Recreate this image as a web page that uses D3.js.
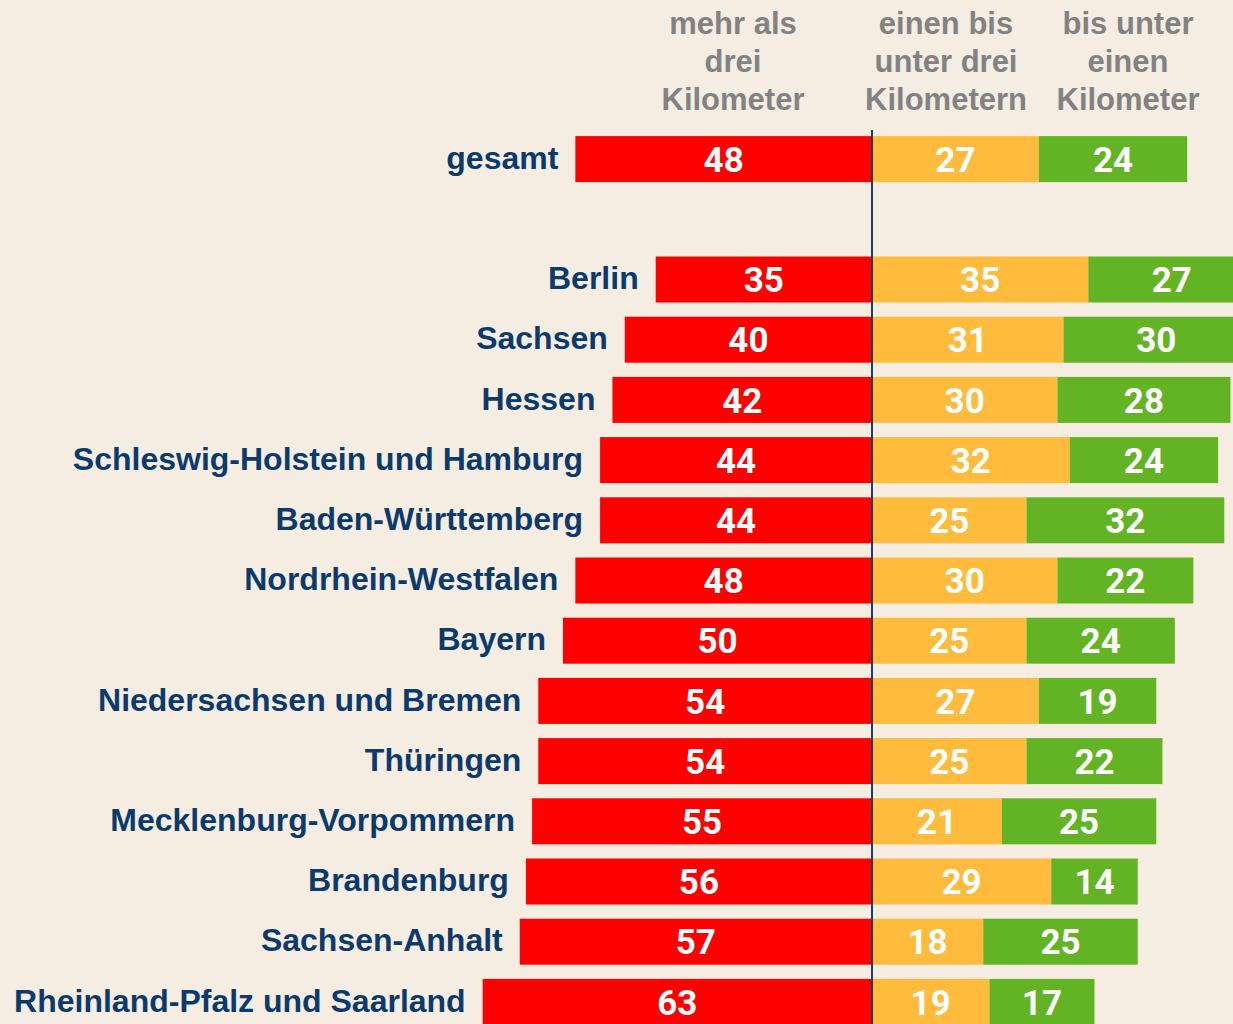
<!DOCTYPE html>
<html>
<head>
<meta charset="utf-8">
<script src="https://cdn.jsdelivr.net/npm/d3@7"></script>
<style>
  body { margin: 0; background: #f5ede2; }
  svg { display: block; }
</style>
</head>
<body>
<div id="chart"></div>
<script>
// data
var regions = ['gesamt', '', 'Berlin', 'Sachsen', 'Hessen', 'Schleswig-Holstein und Hamburg',
  'Baden-Württemberg', 'Nordrhein-Westfalen', 'Bayern', 'Niedersachsen und Bremen',
  'Thüringen', 'Mecklenburg-Vorpommern', 'Brandenburg', 'Sachsen-Anhalt',
  'Rheinland-Pfalz und Saarland']
var moreThan3 = [48, null, 35, 40, 42, 44, 44, 48, 50, 54, 54, 55, 56, 57, 63]
var oneTo3 = [27, null, 35, 31, 30, 32, 25, 30, 25, 27, 25, 21, 29, 18, 19]
var under1 = [24, null, 27, 30, 28, 24, 32, 22, 24, 19, 22, 25, 14, 25, 17]
var headers = [
  ['mehr als', 'drei', 'Kilometer'],
  ['einen bis', 'unter drei', 'Kilometern'],
  ['bis unter', 'einen', 'Kilometer']
]

var COLOR = { RED: '#ff0000', YELLOW: '#ffbb3b', GREEN: '#62b424', NAVY: '#0b3a6d', GREY: '#828282' }

var width = 1233
var height = 1024

var svg = d3.select('#chart')
  .append('svg')
  .attr('width', width)
  .attr('height', height)

svg.append('rect').attr('width', width).attr('height', height).attr('fill', '#f5ede2')

// scales
var x = d3.scaleLinear().domain([-100, 100]).range([872 - 618, 872 + 618])
var y = d3.scaleBand()
  .domain(d3.range(regions.length))
  .range([129, 1032])
  .paddingInner(0.236)
  .paddingOuter(0.118)

var rows = regions.map(function (r, i) {
  return { name: r, a: moreThan3[i], b: oneTo3[i], c: under1[i], i: i }
}).filter(function (d) { return d.a !== null })

var g = svg.append('g')

// bars
var segs = []
rows.forEach(function (d) {
  segs.push({ i: d.i, x0: -d.a, x1: 0, v: d.a, color: COLOR.RED })
  segs.push({ i: d.i, x0: 0, x1: d.b, v: d.b, color: COLOR.YELLOW })
  segs.push({ i: d.i, x0: d.b, x1: d.b + d.c, v: d.c, color: COLOR.GREEN })
})

g.selectAll('rect.bar')
  .data(segs)
  .enter()
  .append('rect')
  .attr('class', 'bar')
  .attr('x', d => x(d.x0))
  .attr('y', d => y(d.i))
  .attr('width', d => x(d.x1) - x(d.x0))
  .attr('height', y.bandwidth())
  .attr('fill', d => d.color)

g.selectAll('text.val')
  .data(segs)
  .enter()
  .append('text')
  .attr('class', 'val')
  .attr('x', d => (x(d.x0) + x(d.x1)) / 2)
  .attr('y', d => y(d.i) + y.bandwidth() / 2)
  .attr('dy', '0.36em')
  .attr('text-anchor', 'middle')
  .style('font-family', 'Roboto, sans-serif')
  .style('font-weight', 700)
  .style('font-size', '35px')
  .style('fill', '#fff')
  .text(d => d.v)

// region labels
g.selectAll('text.lab')
  .data(rows)
  .enter()
  .append('text')
  .attr('class', 'lab')
  .attr('x', d => x(-d.a) - 17)
  .attr('y', d => y(d.i) + y.bandwidth() / 2 - 1.5)
  .attr('dy', '0.35em')
  .attr('text-anchor', 'end')
  .style('font-family', '"Liberation Sans", Arial, sans-serif')
  .style('font-weight', 700)
  .style('font-size', '32px')
  .style('fill', COLOR.NAVY)
  .text(d => d.name)

// center line
svg.append('line')
  .attr('x1', x(0)).attr('x2', x(0))
  .attr('y1', 130).attr('y2', height)
  .attr('stroke', '#1e3d6b')
  .attr('stroke-width', 2)

// column headers
var headX = [733, 946, 1128]
headers.forEach(function (lines, k) {
  var t = svg.append('text')
    .attr('text-anchor', 'middle')
    .style('font-family', '"Liberation Sans", Arial, sans-serif')
    .style('font-weight', 700)
    .style('font-size', '31px')
    .style('fill', COLOR.GREY)
  lines.forEach(function (l, j) {
    t.append('tspan').attr('x', headX[k]).attr('y', 34 + j * 38).text(l)
  })
})
</script>
</body>
</html>
